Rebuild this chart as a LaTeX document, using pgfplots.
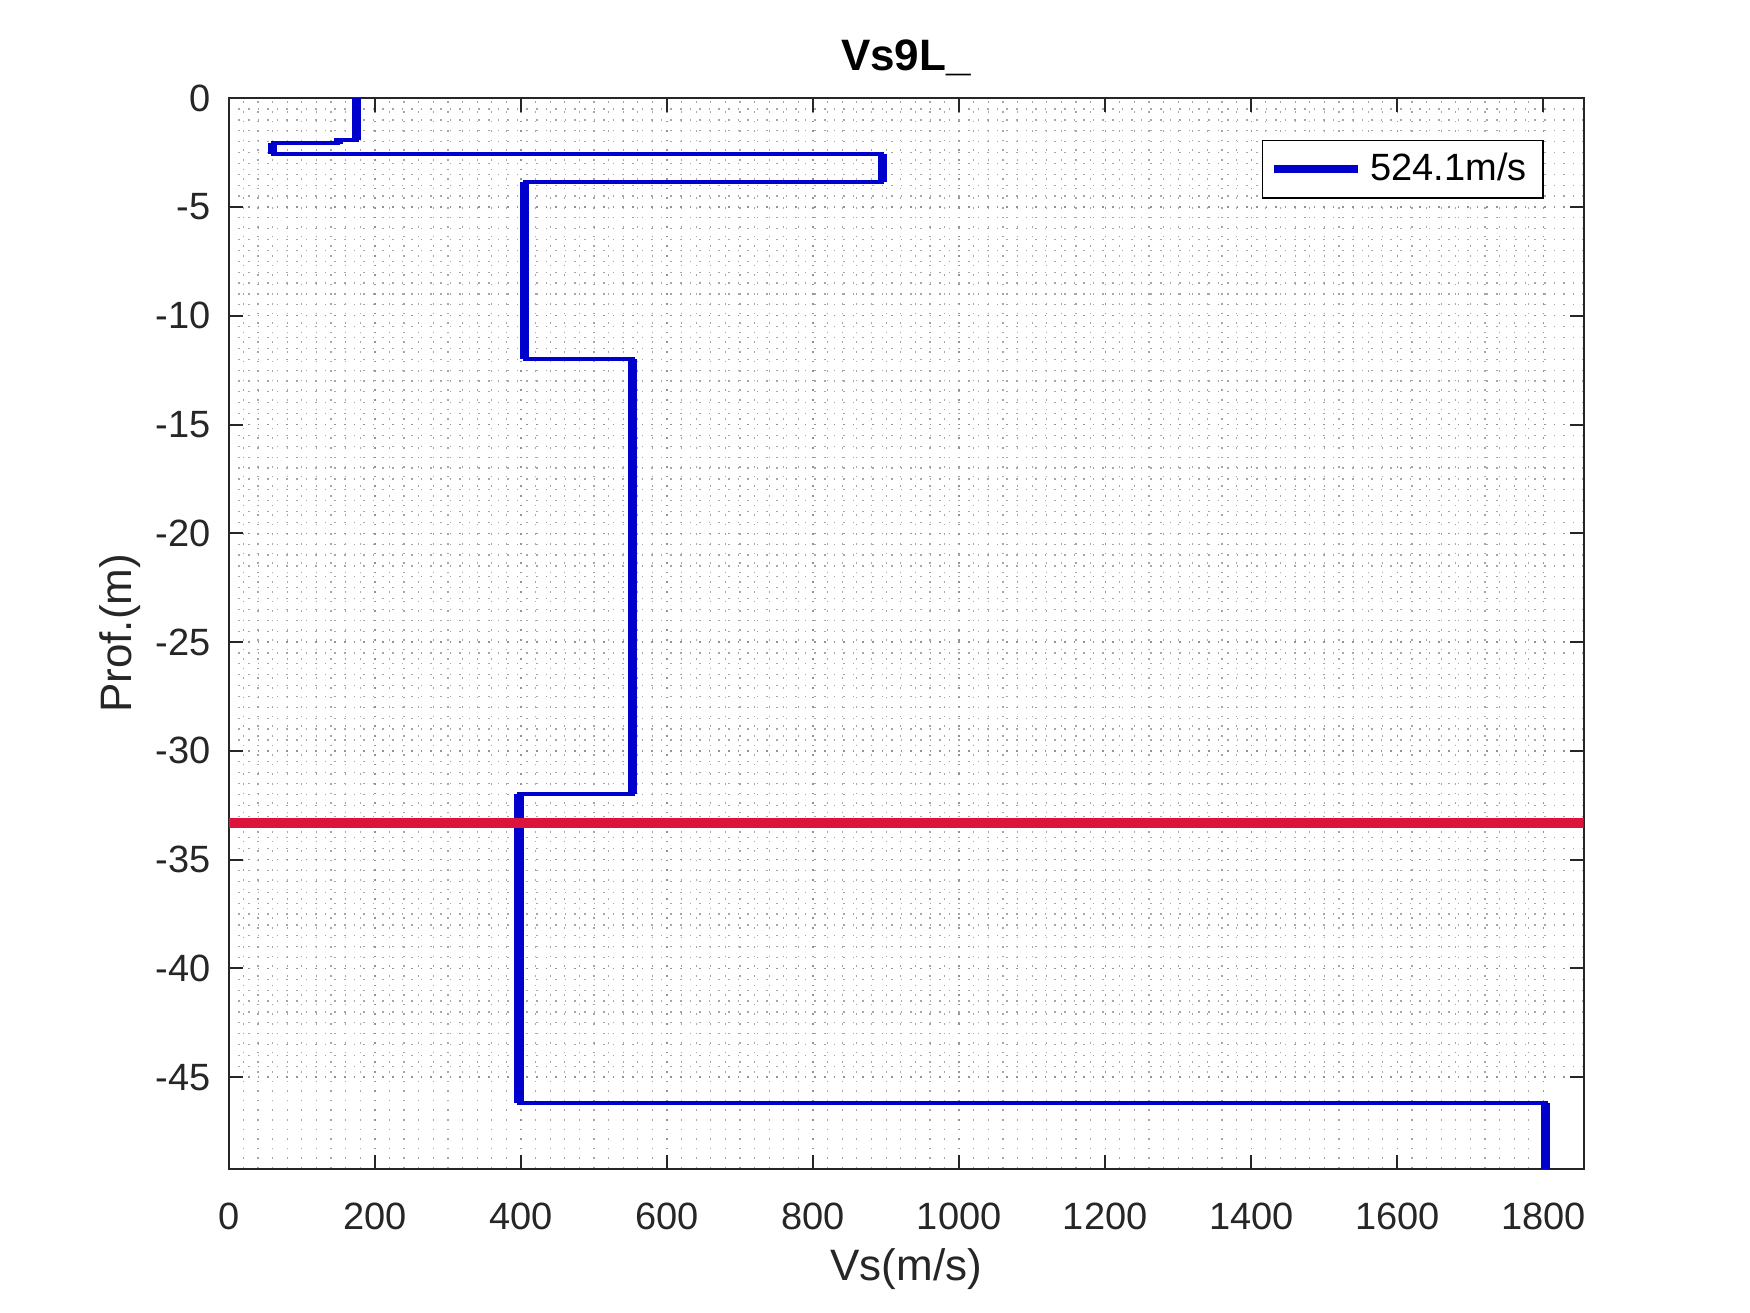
\documentclass[border=0pt]{standalone}
\usepackage{pgfplots}
\pgfplotsset{compat=1.18}
\usepackage{fontspec}
\setmainfont{Liberation Sans}
\definecolor{mblue}{RGB}{0,0,204}
\definecolor{mred}{RGB}{220,20,60}
\definecolor{axgray}{RGB}{38,38,38}
\pgfplotsset{mylegline/.style={legend image code/.code={\draw[#1] (0pt,0pt) -- (21pt,0pt);}}}
\begin{document}
\begin{tikzpicture}
\begin{axis}[
  at={(0,0)}, anchor=south west,
  scale only axis, width=338.7pt, height=267.6pt,
  xmin=0, xmax=1855, ymin=-49.2, ymax=0,
  xtick={0,200,...,1800}, ytick={-45,-40,...,0},
  minor x tick num=9, minor y tick num=9,
  grid=both,
  major grid style={gray!85, dotted, line width=0.35pt},
  minor grid style={gray!70, dotted, line width=0.3pt},
  tick align=inside, major tick length=3.5pt, minor tick length=0pt,
  xtick pos=both, ytick pos=both,
  axis line style={axgray, line width=0.5pt},
  every tick/.style={axgray, line width=0.5pt},
  tick label style={font=\fontsize{9.5}{11}\selectfont, text=axgray},
  /pgf/number format/assume math mode=true,
  /pgf/number format/1000 sep={},
  xticklabel style={yshift=-5pt},
  yticklabel style={xshift=-1pt},
  xlabel={Vs(m/s)}, ylabel={Prof.(m)},
  label style={font=\fontsize{11}{13}\selectfont, text=axgray},
  xlabel style={yshift=2pt},
  ylabel style={yshift=-3pt},
  title={\textbf{Vs9L\_}},
  title style={font=\fontsize{11}{13}\selectfont, yshift=-4pt},
  legend style={at={(1,1)}, anchor=north east, xshift=-10pt, yshift=-10.4pt,
    draw=black, line width=0.4pt, fill=white, font=\fontsize{9.5}{11}\selectfont,
    inner xsep=2pt, inner ysep=1pt},
  legend cell align=left,
  unbounded coords=jump,
]
\addlegendimage{mblue, line width=2pt, mylegline}
\addlegendentry{524.1m/s}
% full profile, thin
\addplot[mblue, line width=1pt, forget plot] coordinates {
 (175,0) (175,-1.9) (150,-1.9) (150,-2.05) (60,-2.05) (60,-2.55) (895,-2.55)
 (895,-3.85) (405,-3.85) (405,-12) (553,-12) (553,-32) (397,-32) (397,-46.2)
 (1803,-46.2) (1803,-49.2)
};
% vertical segments, thick
\addplot[mblue, line width=2.4pt, forget plot] coordinates {
 (175,0) (175,-1.9) (175,nan)
 (150,-1.85) (150,-2.1) (150,nan)
 (60,-2.05) (60,-2.55) (60,nan)
 (895,-2.55) (895,-3.85) (895,nan)
 (405,-3.85) (405,-12) (405,nan)
 (553,-12) (553,-32) (553,nan)
 (397,-32) (397,-46.2) (397,nan)
 (1803,-46.2) (1803,-49.2)
};
% red line
\addplot[mred, line width=2.5pt, forget plot] coordinates {(0,-33.3) (1855,-33.3)};
\end{axis}
\pgfresetboundingbox
\path[use as bounding box] (-57.2pt,-36.1pt) rectangle (380.3pt,292.15pt);
\end{tikzpicture}
\end{document}
